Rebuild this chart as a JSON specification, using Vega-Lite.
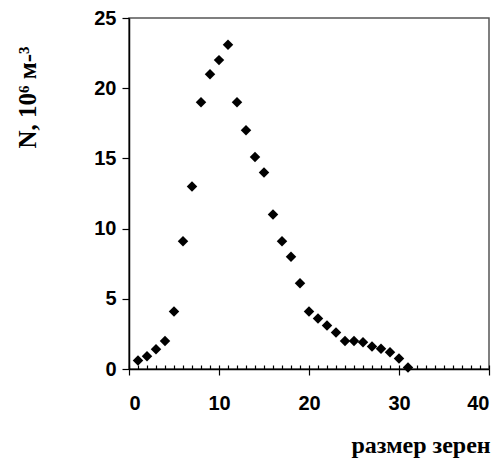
{
  "$schema": "https://vega.github.io/schema/vega-lite/v6.json",
  "width": 360,
  "height": 351,
  "autosize": {"type": "none"},
  "padding": {"left": 129, "top": 18, "right": 13, "bottom": 92},
  "background": "white",
  "config": {
    "view": {"stroke": "#555", "strokeWidth": 1.5},
    "axis": {
      "grid": false,
      "domainColor": "black",
      "domainWidth": 1.5,
      "tickColor": "black",
      "tickWidth": 1.2,
      "labelFont": "Liberation Sans",
      "labelFontWeight": "bold",
      "labelFontSize": 20,
      "labelColor": "black",
      "titleColor": "black",
      "titleFont": "Liberation Serif",
      "titleFontWeight": "bold"
    }
  },
  "data": {
    "values": [
      {"size": 1, "N": 0.6},
      {"size": 2, "N": 0.9},
      {"size": 3, "N": 1.4},
      {"size": 4, "N": 2.0},
      {"size": 5, "N": 4.1},
      {"size": 6, "N": 9.1},
      {"size": 7, "N": 13.0},
      {"size": 8, "N": 19.0},
      {"size": 9, "N": 21.0},
      {"size": 10, "N": 22.0},
      {"size": 11, "N": 23.1},
      {"size": 12, "N": 19.0},
      {"size": 13, "N": 17.0},
      {"size": 14, "N": 15.1},
      {"size": 15, "N": 14.0},
      {"size": 16, "N": 11.0},
      {"size": 17, "N": 9.1},
      {"size": 18, "N": 8.0},
      {"size": 19, "N": 6.1},
      {"size": 20, "N": 4.1},
      {"size": 21, "N": 3.6},
      {"size": 22, "N": 3.1},
      {"size": 23, "N": 2.6},
      {"size": 24, "N": 2.0},
      {"size": 25, "N": 2.0},
      {"size": 26, "N": 1.9},
      {"size": 27, "N": 1.6},
      {"size": 28, "N": 1.45},
      {"size": 29, "N": 1.2},
      {"size": 30, "N": 0.75},
      {"size": 31, "N": 0.1}
    ]
  },
  "resolve": {"axis": {"x": "independent"}},
  "layer": [
    {
      "mark": {"type": "point", "opacity": 0},
      "encoding": {
        "x": {
          "field": "size", "type": "quantitative",
          "scale": {"domain": [0, 40], "nice": false, "zero": false},
          "axis": {
            "orient": "bottom",
            "values": [0,1,2,3,4,5,6,7,8,9,10,11,12,13,14,15,16,17,18,19,20,21,22,23,24,25,26,27,28,29,30,31,32,33,34,35,36,37,38,39,40],
            "labels": false, "domain": false, "tickSize": -4, "title": null
          }
        },
        "y": {"field": "N", "type": "quantitative"}
      }
    },
    {
      "mark": {"type": "point", "shape": "diamond", "filled": true, "color": "black", "size": 110, "opacity": 1},
      "encoding": {
        "x": {
          "field": "size", "type": "quantitative",
          "scale": {"domain": [0, 40], "nice": false, "zero": false},
          "axis": {
            "orient": "bottom",
            "values": [0, 10, 20, 30, 40],
            "tickSize": 6,
            "labelPadding": 18,
            "title": "размер зерен",
            "titleFontSize": 24,
            "titleX": 222,
            "titleY": 83,
            "titleAlign": "left",
            "titleBaseline": "alphabetic",
            "titleAnchor": null
          }
        },
        "y": {
          "field": "N", "type": "quantitative",
          "scale": {"domain": [0, 25], "nice": false},
          "axis": {
            "values": [0, 5, 10, 15, 20, 25],
            "tickSize": 7,
            "labelPadding": 6,
            "title": "N, 10⁶ м-³",
            "titleFontSize": 25,
            "titleAngle": 270,
            "titleX": -94,
            "titleY": 79,
            "titleAlign": "center",
            "titleBaseline": "alphabetic"
          }
        }
      }
    }
  ]
}
